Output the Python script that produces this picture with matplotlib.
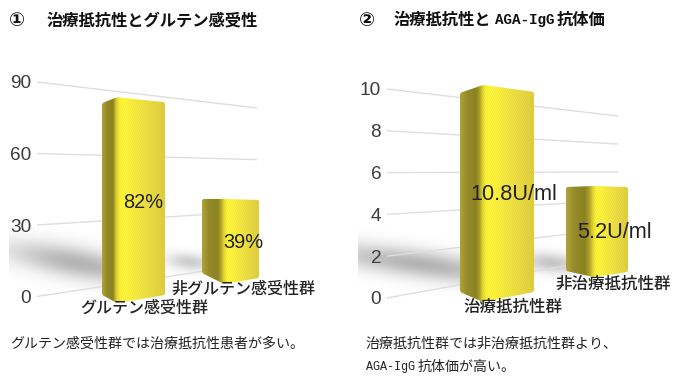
import numpy as np
import matplotlib
matplotlib.use("Agg")
import matplotlib.pyplot as plt
from matplotlib.path import Path
from matplotlib.patches import PathPatch

# ---- data ----
titles_1 = ["①", "治療抵抗性とグルテン感受性"]
titles_2 = ["②", "治療抵抗性と", "AGA-IgG", "抗体価"]
ticks_1 = [0, 30, 60, 90]
ticks_2 = [0, 2, 4, 6, 8, 10]
categories_1 = ["グルテン感受性群", "非グルテン感受性群"]
categories_2 = ["治療抵抗性群", "非治療抵抗性群"]
values_1 = [82, 39]
values_2 = [10.8, 5.2]
value_labels_1 = ["82%", "39%"]
value_labels_2 = ["10.8U/ml", "5.2U/ml"]
caption_1 = "グルテン感受性群では治療抵抗性患者が多い。"
caption_2a = "治療抵抗性群では非治療抵抗性群より、"
caption_2b = ["AGA-IgG", "抗体価が高い。"]

# ---- layout (pixels) ----
W, H = 690, 385
CJK = "Noto Sans CJK JP"
SANS = "Liberation Sans"
MONO = "Liberation Mono"
px = 0.72  # points per pixel at dpi=100

fig = plt.figure(figsize=(W / 100, H / 100), dpi=100, facecolor="white")


def make_rect(x0, x1, y0, y1):
    return [x0 / W, 1 - y1 / H, (x1 - x0) / W, (y1 - y0) / H]


# Background axes in pixel space: soft floor shadows
bg = fig.add_axes([0, 0, 1, 1], zorder=0)
bg.set_xlim(0, W)
bg.set_ylim(H, 0)
bg.axis("off")
xx, yy = np.meshgrid(np.arange(W) + 0.5, np.arange(H) + 0.5)
shadows = [  # cx, cy, sx, sy, tilt, strength, xmin, xmax
    (78, 263, 50, 11, 0.18, 0.42, 9, 104),
    (190, 262, 16, 6, 0.10, 0.28, 165, 205),
    (420, 264, 70, 10, 0.14, 0.42, 358, 462),
    (552, 263, 20, 7, 0.10, 0.32, 530, 570),
]
alpha = np.zeros((H, W))
for cx, cy, sx, sy, tilt, s, a, b in shadows:
    g = s * np.exp(-0.5 * ((xx - cx) / sx) ** 2 - 0.5 * ((yy - cy - tilt * (xx - cx)) / sy) ** 2)
    g[(xx < a) | (xx > b)] = 0
    alpha = np.maximum(alpha, g)
rgba = np.zeros((H, W, 4))
rgba[..., :3] = 0.30
rgba[..., 3] = alpha
bg.imshow(rgba, extent=(0, W, H, 0), aspect="auto", zorder=1, interpolation="bilinear")

FACE_X = [0.0, 0.3, 0.7, 1.0]
FACE_C = np.array([[178, 165, 55], [150, 140, 42], [140, 130, 36], [205, 190, 45]]) / 255
FRONT_X = [0.0, 0.15, 0.55, 1.0]
FRONT_C = np.array([[248, 238, 52], [255, 245, 58], [240, 226, 66], [224, 204, 62]]) / 255
# faint repeating stipple to imitate the dithered surface of the original bitmap
STIPPLE = np.array([[1.0, 0.98, 1.01, 0.985],
                    [1.01, 0.985, 1.0, 0.98],
                    [0.985, 1.0, 0.98, 1.01],
                    [0.98, 1.01, 0.985, 1.0]])


def rounded(points, r=2.0):
    verts, codes = [], []
    n = len(points)
    for i in range(n):
        p = np.array(points[i], float)
        a = np.array(points[i - 1], float)
        b = np.array(points[(i + 1) % n], float)
        pa = p + (a - p) / np.linalg.norm(a - p) * r
        pb = p + (b - p) / np.linalg.norm(b - p) * r
        verts += [pa, p, pb]
        codes += [Path.MOVETO if i == 0 else Path.LINETO, Path.CURVE3, Path.CURVE3]
    verts.append(verts[0])
    codes.append(Path.CLOSEPOLY)
    return np.array(verts), codes


def draw_panel(x0, x1, zero_px, unit_px, ticks, tick_fs, grid_xl, grid_xr, right_zero, right_unit, bars, values):
    ax = fig.add_axes(make_rect(x0, x1, 60, 325), zorder=2)
    ax.patch.set_alpha(0)
    to_val = lambda p: (zero_px - p) / unit_px
    ax.set_xlim(x0, x1)
    ax.set_ylim(to_val(325), to_val(60))
    for s in ax.spines.values():
        s.set_visible(False)
    ax.set_xticks([])
    ax.set_yticks(ticks)
    ax.tick_params(axis="y", length=0, pad=2, labelsize=tick_fs, labelcolor="#3c3c3c")
    for t in ax.get_yticklabels():
        t.set_fontfamily(SANS)
    for v in ticks:
        yr = right_zero - v * right_unit
        ax.plot([grid_xl, grid_xr], [v, to_val(yr)], color="#dedede", lw=1.0, zorder=1,
                solid_capstyle="butt")
    for (xl, xm, xr, base, scale, dtl, dtr, dbl, dbr), v in zip(bars, values):
        top = base - v * scale
        pts = [(xl, base - dbl), (xm, base), (xr, base - dbr),
               (xr, top + dtr), (xm, top), (xl, top + dtl)]
        verts, codes = rounded(pts)
        path = Path(np.column_stack([verts[:, 0], to_val(verts[:, 1])]), codes)
        cols = np.arange(int(xl) - 1, int(xr) + 2) + 0.5
        rows = np.arange(int(top) - 3, int(base) + 4)
        t_face = np.clip((cols - xl) / (xm - xl), 0, 1)
        t_front = np.clip((cols - xm) / (xr - xm), 0, 1)
        img = np.zeros((len(rows), len(cols), 3))
        st = STIPPLE[np.ix_(rows % 4, np.arange(len(cols)) % 4)]
        for c in range(3):
            face = np.interp(t_face, FACE_X, FACE_C[:, c])
            front = np.interp(t_front, FRONT_X, FRONT_C[:, c])
            mix = np.clip((cols - xm + 3) / 6, 0, 1)
            img[:, :, c] = np.clip((face * (1 - mix) + front * mix) * st, 0, 1)
        im = ax.imshow(img, extent=(cols[0] - 0.5, cols[-1] + 0.5, to_val(rows[-1] + 1), to_val(rows[0])),
                       aspect="auto", zorder=3, interpolation="nearest")
        patch = PathPatch(path, fc="none", ec="none", transform=ax.transData)
        ax.add_patch(patch)
        im.set_clip_path(patch)
    ax.set_xlim(x0, x1)
    ax.set_ylim(to_val(325), to_val(60))
    return ax


# x-left, x-ridge, x-right, base y, px per unit, top-left dy, top-right dy, bottom-left dy, bottom-right dy
bars_1 = [(102, 117, 165, 303, 2.51, 6, 5, 8, 8),
          (202, 224, 259, 284, 2.18, 0, 1, 11, 6)]
bars_2 = [(460, 483, 534, 302, 20.1, 8, 7, 10, 10),
          (566, 593, 628, 277, 17.5, 1, 1, 6, 5)]

draw_panel(34, 340, 296.5, 214.5 / 90, ticks_1, 19 * px, 37, 257, 263, 155 / 90, bars_1, values_1)
draw_panel(384, 690, 298, 20.9, ticks_2, 19 * px, 387, 618, 256, 14.0, bars_2, values_2)

# Overlay axes in pixel space for all text
ov = fig.add_axes([0, 0, 1, 1], zorder=5)
ov.set_xlim(0, W)
ov.set_ylim(H, 0)
ov.axis("off")


def T(x, y, s, size, family=CJK, weight="normal", ha="left", color="#111111"):
    ov.text(x, y, s, fontsize=size * px, family=family, fontweight=weight, ha=ha, va="center", color=color)


# titles
T(9, 20, titles_1[0], 19, family=["DejaVu Sans", CJK], weight="bold")
T(47, 20, titles_1[1], 16.3, weight="bold")
T(359, 20, titles_2[0], 19, family=["DejaVu Sans", CJK], weight="bold")
T(394, 20, titles_2[1], 16.3, weight="bold")
T(495, 20, titles_2[2], 14.2, family=MONO, weight="bold")
T(557, 20, titles_2[3], 16.3, weight="bold")

# bar value labels
for (x, y), s in zip([(143.5, 202), (243.5, 242)], value_labels_1):
    T(x, y, s, 20, family=SANS, ha="center", color="#222222")
for (x, y), s in zip([(513.5, 195), (614, 232)], value_labels_2):
    T(x, y, s, 21.8, family=SANS, ha="center", color="#222222")

# category labels
for (x, y), s in zip([(144, 308), (243.5, 289)], categories_1):
    T(x, y, s, 16, ha="center", color="#222222", weight="medium")
for (x, y), s in zip([(512.5, 307), (613, 284)], categories_2):
    T(x, y, s, 16.5, ha="center", color="#222222", weight="medium")

# captions
T(10.5, 344, caption_1, 14, color="#222222")
T(365.5, 344, caption_2a, 14, color="#222222")
T(365.5, 367, caption_2b[0], 11.8, family=MONO, color="#222222")
T(418, 367, caption_2b[1], 14, color="#222222")

fig.savefig("out.png", dpi=100, facecolor="white")
